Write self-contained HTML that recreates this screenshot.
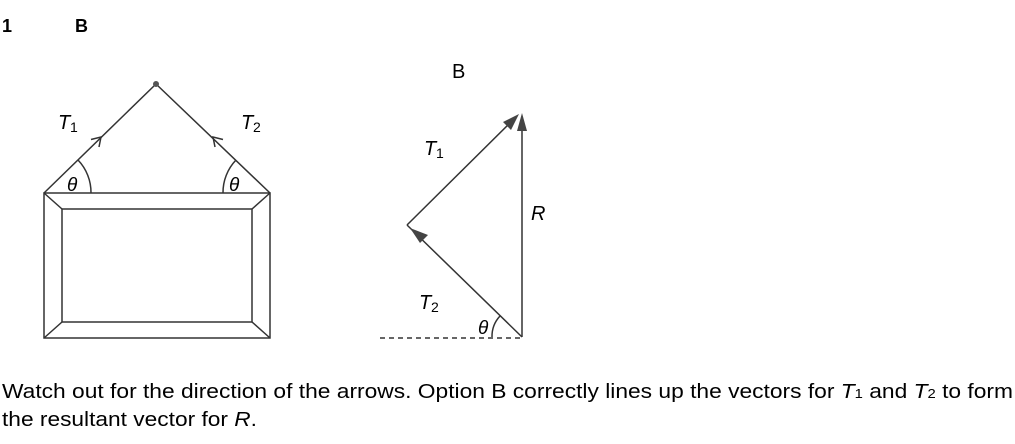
<!DOCTYPE html>
<html><head><meta charset="utf-8"><style>
html,body{margin:0;padding:0;background:#fff;width:1015px;height:444px;overflow:hidden}
svg{display:block}
text{font-family:"Liberation Sans",sans-serif}
</style></head><body>
<svg width="1015" height="444" viewBox="0 0 1015 444" xmlns="http://www.w3.org/2000/svg">
<text x="2" y="32" font-size="18" font-weight="bold">1</text>
<text x="75" y="32" font-size="18" font-weight="bold">B</text>

<g stroke="#333" stroke-width="1.5" fill="none">
<line x1="44" y1="193" x2="156" y2="84"/>
<line x1="270" y1="193" x2="156" y2="84"/>
<rect x="44" y="193" width="226" height="145"/>
<rect x="62" y="209" width="190" height="113"/>
<line x1="44" y1="193" x2="62" y2="209"/>
<line x1="270" y1="193" x2="252" y2="209"/>
<line x1="44" y1="338" x2="62" y2="322"/>
<line x1="270" y1="338" x2="252" y2="322"/>
<path d="M91 193 A47 47 0 0 0 78 160"/>
<path d="M223 193 A47 47 0 0 1 236 160"/>
<path d="M91 139.5 L101 137 L99 147"/>
<path d="M223 139.5 L213 137 L215 147"/>
</g>
<circle cx="156" cy="84" r="3" fill="#555"/>
<text x="58" y="129" font-size="20" font-style="italic">T</text><text x="70" y="132" font-size="14">1</text>
<text x="241" y="129" font-size="20" font-style="italic">T</text><text x="253" y="132" font-size="14">2</text>
<text x="67" y="191" font-size="19" font-style="italic" font-family="Liberation Serif">θ</text>
<text x="229" y="191" font-size="19" font-style="italic" font-family="Liberation Serif">θ</text>

<text x="452" y="78" font-size="20">B</text>
<g stroke="#333" stroke-width="1.5" fill="none">
<line x1="522" y1="337" x2="522" y2="118"/>
<line x1="522" y1="337" x2="407" y2="225"/>
<line x1="407" y1="225" x2="517" y2="116"/>
<line x1="380" y1="338" x2="522" y2="338" stroke-dasharray="5,4"/>
<path d="M492 337 A30 30 0 0 1 500 316"/>
</g>
<polygon points="522,113 517,131 527,131" fill="#444"/>
<polygon points="519,114 503,122 511,130" fill="#444"/>
<polygon points="410,228 428,235 420,243" fill="#444"/>
<text x="424" y="155" font-size="20" font-style="italic">T</text><text x="436" y="158" font-size="14">1</text>
<text x="531" y="220" font-size="20" font-style="italic">R</text>
<text x="419" y="309" font-size="20" font-style="italic">T</text><text x="431" y="312" font-size="14">2</text>
<text x="478" y="334" font-size="19" font-style="italic" font-family="Liberation Serif">θ</text>

<text x="2" y="398" font-size="20" textLength="1011" lengthAdjust="spacingAndGlyphs">Watch out for the direction of the arrows. Option B correctly lines up the vectors for <tspan font-style="italic">T</tspan><tspan font-size="13">1</tspan> and <tspan font-style="italic">T</tspan><tspan font-size="13">2</tspan> to form</text>
<text x="2" y="426" font-size="20" textLength="255" lengthAdjust="spacingAndGlyphs">the resultant vector for <tspan font-style="italic">R</tspan>.</text>
</svg>
</body></html>
